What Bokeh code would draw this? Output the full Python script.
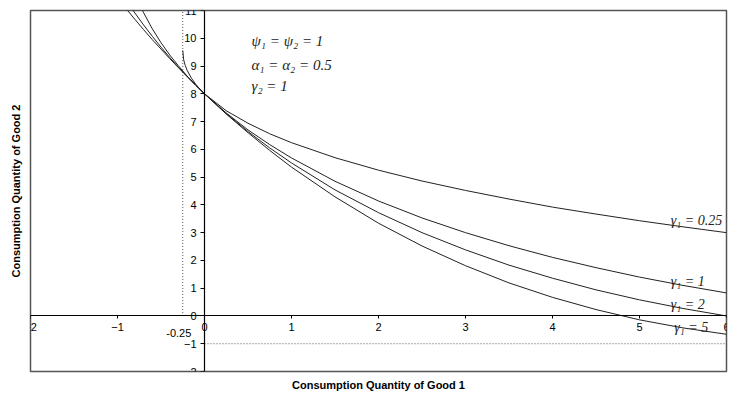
from bokeh.plotting import figure
from bokeh.models import Range1d, LinearAxis, FixedTicker
from bokeh.core.properties import value
from bokeh.embed import file_html
from bokeh.resources import INLINE

# ---- data ----
x_ticks = [-2, -1, 0, 1, 2, 3, 4, 5, 6]
y_ticks = [-2, -1, 0, 1, 2, 3, 4, 5, 6, 7, 8, 9, 10, 11]

asym_x = -0.25   # vertical dotted asymptote (x1 = -gamma1 for gamma1 = 0.25)
asym_y = -1.0    # horizontal dotted asymptote (x2 = -gamma2)

x_g025 = [-0.25, -0.24, -0.23, -0.22, -0.2, -0.15, -0.1, -0.05, 0, 0.25, 0.5, 0.75, 1, 1.5,
          2, 2.5, 3, 3.5, 4, 4.5, 5, 5.5, 6]
y_g025 = [9.56, 9.24, 9.11, 9.01, 8.85, 8.56, 8.34, 8.16, 8.0, 7.39, 6.94, 6.56, 6.24, 5.70,
          5.25, 4.86, 4.52, 4.21, 3.92, 3.67, 3.43, 3.21, 3.00]

x_g1 = [-0.8, -0.7, -0.6, -0.5, -0.4, -0.3, -0.2, -0.1, 0, 0.25, 0.5, 0.75, 1, 1.5,
        2, 2.5, 3, 3.5, 4, 4.5, 5, 5.5, 6]
y_g1 = [11.62, 10.92, 10.34, 9.84, 9.40, 9.01, 8.64, 8.31, 8.0, 7.31, 6.70, 6.17, 5.69, 4.85,
        4.14, 3.53, 3.00, 2.53, 2.11, 1.74, 1.40, 1.10, 0.83]

x_g2 = [-0.9, -0.8, -0.7, -0.6, -0.5, -0.4, -0.3, -0.2, -0.1, 0, 0.25, 0.5, 0.75, 1, 1.5,
        2, 2.5, 3, 3.5, 4, 4.5, 5, 5.5, 6]
y_g2 = [11.37, 10.91, 10.48, 10.07, 9.68, 9.31, 8.96, 8.63, 8.31, 8.0, 7.29, 6.64, 6.05, 5.51, 4.54,
        3.72, 3.00, 2.38, 1.83, 1.36, 0.94, 0.58, 0.27, 0.00]

x_g5 = [-1.0, -0.9, -0.8, -0.7, -0.6, -0.5, -0.4, -0.3, -0.2, -0.1, 0, 0.25, 0.5, 0.75, 1, 1.5,
        2, 2.5, 3, 3.5, 4, 4.5, 5, 5.5, 6]
y_g5 = [11.45, 11.06, 10.68, 10.31, 9.95, 9.61, 9.27, 8.94, 8.62, 8.30, 8.0, 7.27, 6.60, 5.96, 5.36, 4.29,
        3.34, 2.52, 1.81, 1.19, 0.67, 0.23, -0.14, -0.43, -0.66]

curve_labels = ["γ₁ = 0.25", "γ₁ = 1", "γ₁ = 2", "γ₁ = 5"]
curve_label_x = [5.36, 5.36, 5.36, 5.40]
curve_label_y = [3.42, 1.23, 0.40, -0.43]

param_lines = ["ψ₁ = ψ₂ = 1", "α₁ = α₂ = 0.5", "γ₂ = 1"]
param_x = [0.54, 0.54, 0.54]
param_y = [9.9, 9.05, 8.28]

extra_tick_label = "-0.25"

# ---- figure ----
p = figure(width=729, height=396, output_backend="svg", toolbar_location=None,
           x_range=Range1d(-2, 6), y_range=Range1d(-2, 11),
           x_axis_location=None, y_axis_location=None,
           min_border_left=30, min_border_right=3, min_border_top=10, min_border_bottom=25,
           background_fill_color="white", border_fill_color="white")
p.grid.grid_line_color = None
p.outline_line_color = "#555555"
p.outline_line_width = 1.5

tick_font = value("Liberation Sans")

xax = LinearAxis(fixed_location=0, ticker=FixedTicker(ticks=x_ticks, minor_ticks=[]),
                 axis_line_color="black", axis_line_width=1.2,
                 major_tick_in=0, major_tick_out=3, major_tick_line_color="black",
                 minor_tick_line_color=None,
                 major_label_text_font="Liberation Sans", major_label_text_font_size="11px",
                 major_label_text_color="black", major_label_standoff=4)
p.add_layout(xax, "below")

xtitle = LinearAxis(ticker=FixedTicker(ticks=[], minor_ticks=[]),
                    axis_label="Consumption Quantity of Good 1",
                    axis_line_color=None, major_tick_line_color=None, minor_tick_line_color=None,
                    axis_label_text_font="Liberation Sans", axis_label_text_font_size="11px",
                    axis_label_text_font_style="bold", axis_label_text_color="black",
                    axis_label_standoff=7)
p.add_layout(xtitle, "below")

yax = LinearAxis(fixed_location=0, ticker=FixedTicker(ticks=y_ticks, minor_ticks=[]),
                 axis_line_color="black", axis_line_width=1.2,
                 major_tick_in=0, major_tick_out=4, major_tick_line_color="black",
                 minor_tick_line_color=None,
                 major_label_text_font="Liberation Sans", major_label_text_font_size="11px",
                 major_label_text_color="black", major_label_standoff=4)
p.add_layout(yax, "left")

ytitle = LinearAxis(ticker=FixedTicker(ticks=[], minor_ticks=[]),
                    axis_label="Consumption Quantity of Good 2",
                    axis_line_color=None, major_tick_line_color=None, minor_tick_line_color=None,
                    axis_label_text_font="Liberation Sans", axis_label_text_font_size="11px",
                    axis_label_text_font_style="bold", axis_label_text_color="black",
                    axis_label_standoff=9)
p.add_layout(ytitle, "left")

# dotted asymptotes
p.segment(x0=[asym_x], y0=[0], x1=[asym_x], y1=[y_ticks[-1]],
          line_color="#555555", line_width=1, line_dash="1 2")
p.segment(x0=[0], y0=[asym_y], x1=[x_ticks[-1]], y1=[asym_y],
          line_color="#555555", line_width=1, line_dash="1 2")

# curves
for xs, ys in [(x_g025, y_g025), (x_g1, y_g1), (x_g2, y_g2), (x_g5, y_g5)]:
    p.line(xs, ys, line_color="#222222", line_width=1)

# extra tick label
p.text(x=[asym_x], y=[0], text=[extra_tick_label], text_font=tick_font,
       text_font_size="11px", text_color="black", text_align="center",
       text_baseline="top", x_offset=-4, y_offset=13)

serif = value("Liberation Serif")
p.text(x=curve_label_x, y=curve_label_y, text=curve_labels, text_font=serif,
       text_font_size="14px", text_font_style="italic", text_color="#222222",
       text_align="left", text_baseline="middle")
p.text(x=param_x, y=param_y, text=param_lines, text_font=serif,
       text_font_size="15px", text_font_style="italic", text_color="#222222",
       text_align="left", text_baseline="middle")

open("out.html", "w").write(file_html(p, INLINE))
